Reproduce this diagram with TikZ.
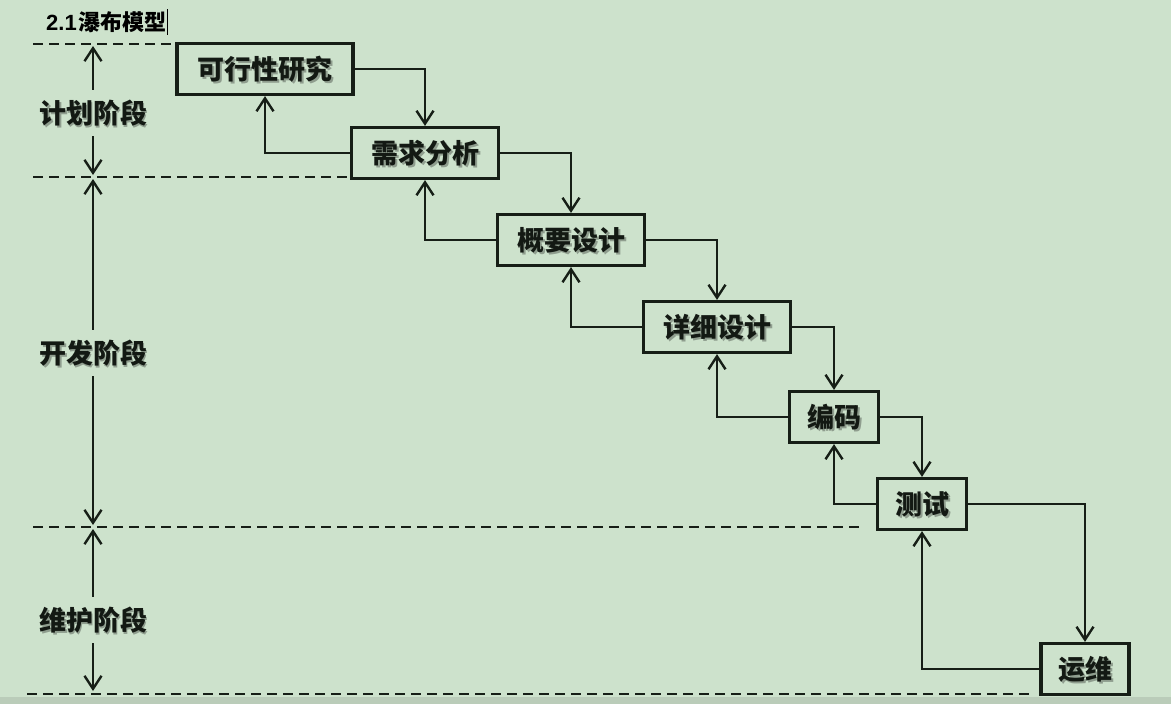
\documentclass[tikz,border=0pt]{standalone}
\usepackage{fontspec}
\newfontfamily\cjk{Noto Sans CJK SC}
\newfontfamily\arial{Liberation Sans}
\usetikzlibrary{arrows.meta}
\definecolor{bg}{RGB}{205,226,204}
\definecolor{bgdark}{RGB}{186,204,185}
\definecolor{ink}{RGB}{22,30,22}
\tikzset{
  arr/.style={draw=ink, line width=2.4pt, -{Straight Barb[length=13pt,width=17pt,line width=2.4pt]}},
  guide/.style={draw=ink, line width=2.2pt, dash pattern=on 10pt off 6pt},
  stagebox/.style={draw=ink, line width=3.2pt, inner sep=0pt, minimum height=51pt,
    font=\cjk\bfseries\fontsize{27}{27}\selectfont, text=ink!85!black},
  shadowtxt/.style={inner sep=0pt, font=\cjk\bfseries\fontsize{27}{27}\selectfont, text=black, opacity=0.3},
  phase/.style={inner xsep=0pt, inner ysep=10pt, font=\cjk\bfseries\fontsize{27}{27}\selectfont, text=ink!85!black},
}
\begin{document}
\begin{tikzpicture}[x=1pt,y=-1pt]
\useasboundingbox (0,0) rectangle (1171,704);
\fill[bg] (0,0) rectangle (1171,704);
\fill[bgdark] (0,697) rectangle (1171,704);

% title
\node[anchor=west, inner sep=0pt, text=black] (title) at (46,22)
  {\fontsize{22}{22}\selectfont{\arial\bfseries 2.1}\hspace{2pt}{\cjk\bfseries 瀑布模型}};
\draw[black, line width=0.8pt] (167,9) -- (167,35);

% guide lines
\draw[guide] (33,44) -- (176,44);
\draw[guide] (33,177) -- (352,177);
\draw[guide] (33,527) -- (862,527);
\draw[guide] (27,694) -- (1032,694);

% text shadows
\node[shadowtxt] (s1) at (267,71) {可行性研究};
\node[shadowtxt] (s2) at (427,155) {需求分析};
\node[shadowtxt] (s3) at (573,242) {概要设计};
\node[shadowtxt] (s4) at (719,329) {详细设计};
\node[shadowtxt] (s5) at (836,419) {编码};
\node[shadowtxt] (s6) at (924,506) {测试};
\node[shadowtxt] (s7) at (1087,671) {运维};

% stage boxes
\node[stagebox, minimum width=176pt] (k1) at (265,69) {可行性研究};
\node[stagebox, minimum width=147pt] (k2) at (425,153) {需求分析};
\node[stagebox, minimum width=147pt] (k3) at (571,240) {概要设计};
\node[stagebox, minimum width=147pt] (k4) at (717,327) {详细设计};
\node[stagebox, minimum width=89pt] (k5) at (834,417) {编码};
\node[stagebox, minimum width=89pt] (k6) at (922,504) {测试};
\node[stagebox, minimum width=88pt] (k7) at (1085,669) {运维};

% forward arrows
\draw[arr] (k1.east) -| (k2.north);
\draw[arr] (k2.east) -| (k3.north);
\draw[arr] (k3.east) -| (k4.north);
\draw[arr] (k4.east) -| (k5.north);
\draw[arr] (k5.east) -| (k6.north);
\draw[arr] (k6.east) -| (k7.north);
% feedback arrows
\draw[arr] (k2.west) -| (k1.south);
\draw[arr] (k3.west) -| (k2.south);
\draw[arr] (k4.west) -| (k3.south);
\draw[arr] (k5.west) -| (k4.south);
\draw[arr] (k6.west) -| (k5.south);
\draw[arr] (k7.west) -| (k6.south);

% phase labels
\node[phase, text=black, opacity=0.3] (ps1) at (95,115) {计划阶段};
\node[phase, text=black, opacity=0.3] (ps2) at (95,355) {开发阶段};
\node[phase, text=black, opacity=0.3] (ps3) at (95,622) {维护阶段};
\node[phase] (p1) at (93,113) {计划阶段};
\node[phase] (p2) at (93,353) {开发阶段};
\node[phase] (p3) at (93,620) {维护阶段};

\coordinate (p1t) at (93,46);
\coordinate (p1b) at (93,175);
\coordinate (p2t) at (93,179);
\coordinate (p2b) at (93,525);
\coordinate (p3t) at (93,529);
\coordinate (p3b) at (93,691);
\draw[arr] (p1.north) -- (p1t);
\draw[arr] (p1.south) -- (p1b);
\draw[arr] (p2.north) -- (p2t);
\draw[arr] (p2.south) -- (p2b);
\draw[arr] (p3.north) -- (p3t);
\draw[arr] (p3.south) -- (p3b);
\end{tikzpicture}
\end{document}
